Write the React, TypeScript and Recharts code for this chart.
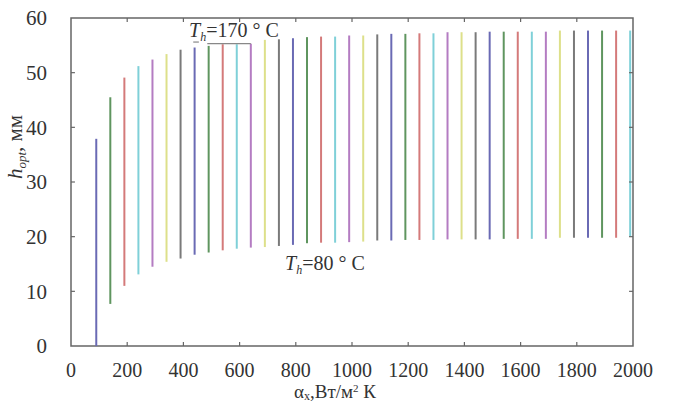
import React from 'react';
import { ComposedChart, Bar, Cell, XAxis, YAxis, ReferenceLine, ReferenceArea } from 'recharts';

// heat transfer coefficient values, one vertical line each
const alphaValues = [
  90, 140, 190, 240, 290, 340, 390, 440, 490, 540, 590, 640, 690,
  740, 790, 840, 890, 940, 990, 1040, 1090, 1140, 1190, 1240, 1290, 1340,
  1390, 1440, 1490, 1540, 1590, 1640, 1690, 1740, 1790, 1840, 1890, 1940, 1990,
];
// h_opt at Th = 170 °C (top end)
const hTop = [
  37.9, 45.5, 49.1, 51.2, 52.4, 53.4, 54.2, 54.6, 54.9, 55.2, 55.2, 55.3, 56.0,
  56.1, 56.3, 56.5, 56.6, 56.6, 56.8, 56.8, 57.0, 57.1, 57.1, 57.2, 57.2, 57.4,
  57.4, 57.4, 57.5, 57.5, 57.5, 57.5, 57.5, 57.7, 57.7, 57.7, 57.7, 57.7, 57.7,
];
// h_opt at Th = 80 °C (bottom end)
const hBottom = [
  0, 7.7, 11.0, 13.1, 14.5, 15.4, 16.0, 16.7, 17.1, 17.5, 17.8, 18.0, 18.1,
  18.3, 18.5, 18.8, 18.9, 18.9, 19.0, 19.1, 19.3, 19.3, 19.4, 19.4, 19.4, 19.5,
  19.5, 19.5, 19.5, 19.6, 19.6, 19.6, 19.6, 19.8, 19.8, 19.8, 19.8, 19.8, 20.0,
];
const xTicks = [0, 200, 400, 600, 800, 1000, 1200, 1400, 1600, 1800, 2000];
const yTicks = [0, 10, 20, 30, 40, 50, 60];
const palette = ['#6a6ab4', '#5f955f', '#d47a7a', '#7fd0d8', '#b47cc2', '#dde08a', '#7a7a7a'];

const data = alphaValues.map((x, i) => ({ x, range: [hBottom[i], hTop[i]] }));

const font = '"Liberation Serif", "DejaVu Serif", serif';
const axisColor = '#666';
const labelColor = '#333';
// inward tick length, in data units (about 4px)
const xTickLen = 0.75;
const yTickLen = 14;

export default function App() {
  return (
    <div style={{ position: 'absolute', left: 0, top: 0, width: 675, height: 407, background: '#fff' }}>
      <ComposedChart width={675} height={407} data={data} margin={{ top: 18, right: 42, bottom: 0, left: 0 }}>
        <XAxis
          dataKey="x"
          type="number"
          domain={[0, 2000]}
          ticks={xTicks}
          height={61}
          tickLine={false}
          tickMargin={11}
          axisLine={false}
          tick={{ fill: labelColor, fontSize: 20, fontFamily: font }}
          interval={0}
        />
        <YAxis
          type="number"
          domain={[0, 60]}
          ticks={yTicks}
          width={71}
          tickLine={false}
          tickMargin={18}
          axisLine={false}
          tick={{ fill: labelColor, fontSize: 21, fontFamily: font }}
          interval={0}
        />
        <ReferenceArea x1={0} x2={2000} y1={0} y2={60} fill="none" stroke={axisColor} strokeWidth={1.5} />
        {xTicks.slice(1, -1).map((t) => (
          <ReferenceLine key={'b' + t} segment={[{ x: t, y: 0 }, { x: t, y: xTickLen }]} stroke={axisColor} strokeWidth={1.2} />
        ))}
        {xTicks.slice(1, -1).map((t) => (
          <ReferenceLine key={'t' + t} segment={[{ x: t, y: 60 }, { x: t, y: 60 - xTickLen }]} stroke={axisColor} strokeWidth={1.2} />
        ))}
        {yTicks.slice(1, -1).map((t) => (
          <ReferenceLine key={'l' + t} segment={[{ x: 0, y: t }, { x: yTickLen, y: t }]} stroke={axisColor} strokeWidth={1.2} />
        ))}
        {yTicks.slice(1, -1).map((t) => (
          <ReferenceLine key={'r' + t} segment={[{ x: 2000, y: t }, { x: 2000 - yTickLen, y: t }]} stroke={axisColor} strokeWidth={1.2} />
        ))}
        <Bar dataKey="range" barSize={2} isAnimationActive={false}>
          {data.map((d, i) => (
            <Cell key={d.x} fill={palette[i % palette.length]} />
          ))}
        </Bar>
        <ReferenceLine segment={[{ x: 485, y: 55.3 }, { x: 640, y: 55.3 }]} stroke="#888" strokeWidth={1.2} />
        <ReferenceLine segment={[{ x: 435, y: 55.6 }, { x: 455, y: 55.6 }]} stroke="#888" strokeWidth={1.2} />
      </ComposedChart>
      <svg width={675} height={407} style={{ position: 'absolute', left: 0, top: 0, pointerEvents: 'none' }}>
        <g fontFamily={font} fill={labelColor}>
          <text x={189} y={37} fontSize={20}>
            <tspan fontStyle="italic">T</tspan>
            <tspan fontStyle="italic" fontSize={12} dy={4}>h</tspan>
            <tspan dy={-4}>=170 ° C</tspan>
          </text>
          <text x={285} y={270} fontSize={20}>
            <tspan fontStyle="italic">T</tspan>
            <tspan fontStyle="italic" fontSize={12} dy={4}>h</tspan>
            <tspan dy={-4}>=80 ° C</tspan>
          </text>
          <text x={294} y={398} fontSize={19}>
            <tspan>α</tspan>
            <tspan fontSize={12} dy={2}>x</tspan>
            <tspan dy={-2}>,Вт/м</tspan>
            <tspan fontSize={11} dy={-6}>2</tspan>
            <tspan dy={6}> К</tspan>
          </text>
          <text x={22} y={147} fontSize={21} textAnchor="middle" transform="rotate(-90 22 147)">
            <tspan fontStyle="italic">h</tspan>
            <tspan fontStyle="italic" fontSize={13} dy={4}>opt</tspan>
            <tspan dy={-4}>, мм</tspan>
          </text>
        </g>
      </svg>
    </div>
  );
}
